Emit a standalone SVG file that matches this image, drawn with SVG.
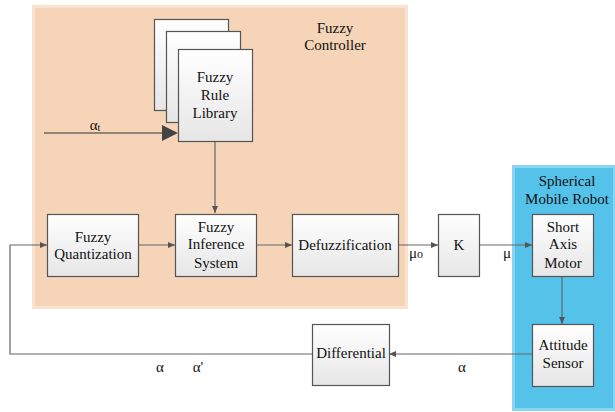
<svg xmlns="http://www.w3.org/2000/svg" width="615" height="412" viewBox="0 0 615 412" font-family="Liberation Serif, Times New Roman, DejaVu Serif, serif">
<defs>
<linearGradient id="bg" x1="0" y1="0" x2="0" y2="1">
<stop offset="0" stop-color="#ffffff"/>
<stop offset="1" stop-color="#e6e6e6"/>
</linearGradient>
<marker id="ah" markerWidth="8" markerHeight="8" refX="7" refY="4" orient="auto" markerUnits="userSpaceOnUse">
<path d="M0,1 L7,4 L0,7 Z" fill="#555"/>
</marker>
</defs>
<style>
text{font-size:15px;fill:#111;text-anchor:middle}
.box{fill:url(#bg);stroke:#555;stroke-width:1.2}
.ln{fill:none;stroke:#666;stroke-width:1.2}
</style>
<rect width="615" height="412" fill="#fff"/>
<g id="fuzzy-controller-panel">
<rect x="33.5" y="6.5" width="373" height="301" fill="#F5D4B8" stroke="#F9E3D0" stroke-width="3"/>
<text x="335" y="33">Fuzzy</text>
<text x="335" y="50">Controller</text>
</g>
<g id="robot-panel">
<rect x="513.5" y="166.5" width="101" height="243" fill="#55C2EA" stroke="#8AD5F2" stroke-width="3"/>
<text x="567" y="186">Spherical</text>
<text x="567" y="204">Mobile Robot</text>
</g>
<g id="connectors">
<line x1="44" y1="133" x2="163" y2="133" stroke="#333" stroke-width="1.2"/>
<path d="M162,125 L178,133 L162,141 Z" fill="#444"/>
<line class="ln" x1="215" y1="141" x2="215" y2="213" marker-end="url(#ah)"/>
<line class="ln" x1="138" y1="245" x2="175" y2="245" marker-end="url(#ah)"/>
<line class="ln" x1="256" y1="245" x2="292" y2="245" marker-end="url(#ah)"/>
<line class="ln" x1="398" y1="245" x2="438" y2="245" marker-end="url(#ah)"/>
<line class="ln" x1="479" y1="245" x2="532" y2="245" marker-end="url(#ah)"/>
<line class="ln" x1="562" y1="276" x2="562" y2="324" marker-end="url(#ah)"/>
<line class="ln" x1="532" y1="354" x2="389" y2="354" marker-end="url(#ah)"/>
<polyline class="ln" points="312,354 10,354 10,245 47,245" marker-end="url(#ah)"/>
<text x="95" y="130">α<tspan font-size="10" dy="1">t</tspan></text>
<text x="416" y="258">μ<tspan font-size="12">o</tspan></text>
<text x="507" y="258">μ</text>
<text x="462" y="372">α</text>
<text x="160" y="372">α</text>
<text x="198" y="372">α'</text>
</g>
<g id="rule-library">
<rect class="box" x="154.5" y="19.5" width="74" height="91"/>
<rect class="box" x="166.5" y="31.5" width="74" height="91"/>
<rect class="box" x="178.5" y="49.5" width="74" height="92"/>
<text x="215" y="82">Fuzzy</text>
<text x="215" y="100">Rule</text>
<text x="215" y="118">Library</text>
</g>
<g id="fuzzy-quantization">
<rect class="box" x="47.5" y="214.5" width="91" height="62"/>
<text x="93" y="242">Fuzzy</text>
<text x="93" y="259">Quantization</text>
</g>
<g id="fuzzy-inference">
<rect class="box" x="175.5" y="214.5" width="81" height="62"/>
<text x="216" y="232">Fuzzy</text>
<text x="216" y="249">Inference</text>
<text x="216" y="268">System</text>
</g>
<g id="defuzzification">
<rect class="box" x="292.5" y="214.5" width="106" height="62"/>
<text x="345" y="250">Defuzzification</text>
</g>
<g id="k">
<rect class="box" x="438.5" y="214.5" width="41" height="62"/>
<text x="459" y="250">K</text>
</g>
<g id="short-axis-motor">
<rect class="box" x="532.5" y="214.5" width="61" height="62"/>
<text x="563" y="232">Short</text>
<text x="563" y="249">Axis</text>
<text x="563" y="268">Motor</text>
</g>
<g id="attitude-sensor">
<rect class="box" x="532.5" y="324.5" width="61" height="62"/>
<text x="563" y="350">Attitude</text>
<text x="563" y="368">Sensor</text>
</g>
<g id="differential">
<rect class="box" x="312.5" y="324.5" width="77" height="61"/>
<text x="351" y="358">Differential</text>
</g>
</svg>
